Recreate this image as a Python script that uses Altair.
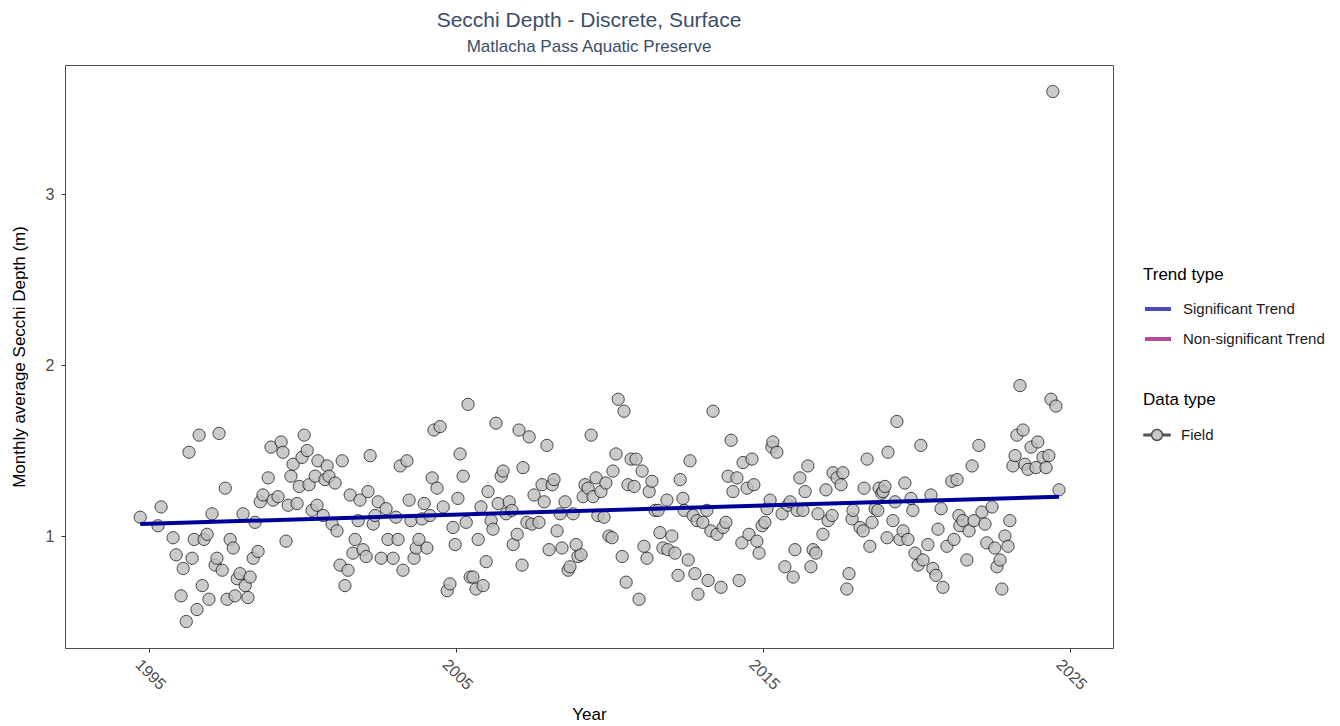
import altair as alt
import pandas as pd

years = [
    1994.71, 1995.29, 1995.39, 1995.78, 1995.88, 1996.04, 1996.11, 1996.21, 1996.30, 1996.40,
    1996.47, 1996.56, 1996.63, 1996.73, 1996.79, 1996.89, 1996.95, 1997.05, 1997.15, 1997.21,
    1997.28, 1997.38, 1997.48, 1997.54, 1997.64, 1997.74, 1997.80, 1997.87, 1997.96, 1998.06,
    1998.13, 1998.22, 1998.29, 1998.39, 1998.45, 1998.55, 1998.62, 1998.71, 1998.88, 1998.97,
    1999.04, 1999.20, 1999.30, 1999.36, 1999.46, 1999.53, 1999.62, 1999.69, 1999.82, 1999.89,
    1999.98, 2000.05, 2000.15, 2000.21, 2000.31, 2000.41, 2000.47, 2000.50, 2000.67, 2000.73,
    2000.80, 2000.86, 2000.96, 2001.06, 2001.12, 2001.22, 2001.29, 2001.38, 2001.48, 2001.55,
    2001.64, 2001.71, 2001.81, 2001.87, 2001.97, 2002.07, 2002.13, 2002.20, 2002.30, 2002.36,
    2002.46, 2002.56, 2002.72, 2002.78, 2002.95, 2003.04, 2003.11, 2003.18, 2003.27, 2003.40,
    2003.47, 2003.53, 2003.63, 2003.70, 2003.79, 2003.89, 2003.96, 2004.05, 2004.15, 2004.22,
    2004.28, 2004.38, 2004.48, 2004.58, 2004.71, 2004.80, 2004.90, 2004.97, 2005.06, 2005.13,
    2005.23, 2005.33, 2005.39, 2005.46, 2005.55, 2005.65, 2005.72, 2005.81, 2005.88, 2005.98,
    2006.04, 2006.14, 2006.20, 2006.30, 2006.37, 2006.47, 2006.53, 2006.63, 2006.73, 2006.82,
    2006.86, 2006.99, 2007.05, 2007.15, 2007.18, 2007.31, 2007.38, 2007.47, 2007.54, 2007.70,
    2007.80, 2007.87, 2007.96, 2008.03, 2008.13, 2008.19, 2008.29, 2008.39, 2008.45, 2008.55,
    2008.65, 2008.71, 2008.81, 2008.91, 2008.97, 2009.07, 2009.14, 2009.20, 2009.30, 2009.40,
    2009.46, 2009.56, 2009.62, 2009.72, 2009.82, 2009.88, 2009.98, 2010.08, 2010.11, 2010.21,
    2010.28, 2010.41, 2010.47, 2010.54, 2010.60, 2010.70, 2010.80, 2010.86, 2010.96, 2011.06,
    2011.12, 2011.22, 2011.29, 2011.38, 2011.48, 2011.58, 2011.64, 2011.74, 2011.87, 2011.90,
    2012.03, 2012.13, 2012.23, 2012.30, 2012.39, 2012.43, 2012.56, 2012.62, 2012.72, 2012.78,
    2012.85, 2012.88, 2013.04, 2013.17, 2013.21, 2013.30, 2013.37, 2013.50, 2013.63, 2013.70,
    2013.79, 2013.86, 2013.96, 2014.02, 2014.15, 2014.22, 2014.31, 2014.35, 2014.48, 2014.54,
    2014.64, 2014.70, 2014.80, 2014.87, 2014.97, 2015.06, 2015.13, 2015.23, 2015.29, 2015.32,
    2015.45, 2015.62, 2015.71, 2015.81, 2015.88, 2015.98, 2016.04, 2016.11, 2016.20, 2016.30,
    2016.37, 2016.46, 2016.56, 2016.63, 2016.72, 2016.79, 2016.95, 2017.05, 2017.12, 2017.25,
    2017.28, 2017.41, 2017.54, 2017.60, 2017.73, 2017.80, 2017.90, 2017.93, 2018.16, 2018.26,
    2018.29, 2018.39, 2018.48, 2018.55, 2018.65, 2018.74, 2018.78, 2018.87, 2018.91, 2018.97,
    2019.04, 2019.07, 2019.23, 2019.30, 2019.36, 2019.46, 2019.56, 2019.62, 2019.72, 2019.82,
    2019.88, 2019.95, 2020.05, 2020.14, 2020.21, 2020.37, 2020.47, 2020.53, 2020.63, 2020.70,
    2020.80, 2020.86, 2020.99, 2021.15, 2021.22, 2021.32, 2021.38, 2021.41, 2021.51, 2021.64,
    2021.71, 2021.81, 2021.87, 2022.03, 2022.13, 2022.23, 2022.29, 2022.46, 2022.55, 2022.62,
    2022.72, 2022.78, 2022.88, 2022.98, 2023.04, 2023.14, 2023.21, 2023.27, 2023.37, 2023.47,
    2023.53, 2023.63, 2023.73, 2023.89, 2023.95, 2024.12, 2024.22, 2024.31, 2024.38, 2024.44,
    2024.54, 2024.64,
]

secchi = [
    1.11, 1.06, 1.17, 0.99, 0.89, 0.65, 0.81, 0.50, 1.49, 0.87,
    0.98, 0.57, 1.59, 0.71, 0.98, 1.01, 0.63, 1.13, 0.83, 0.87,
    1.60, 0.80, 1.28, 0.63, 0.98, 0.93, 0.65, 0.75, 0.78, 1.13,
    0.71, 0.64, 0.76, 0.87, 1.08, 0.91, 1.20, 1.24, 1.34, 1.52,
    1.21, 1.23, 1.55, 1.49, 0.97, 1.18, 1.35, 1.42, 1.19, 1.29,
    1.46, 1.59, 1.50, 1.30, 1.15, 1.35, 1.18, 1.44, 1.12, 1.33,
    1.41, 1.35, 1.07, 1.31, 1.03, 0.83, 1.44, 0.71, 0.80, 1.24,
    0.90, 0.98, 1.09, 1.21, 0.92, 0.88, 1.26, 1.47, 1.07, 1.12,
    1.20, 0.87, 1.16, 0.98, 0.87, 1.11, 0.98, 1.41, 0.80, 1.44,
    1.21, 1.09, 0.87, 0.93, 0.98, 1.10, 1.19, 0.93, 1.12, 1.34,
    1.62, 1.28, 1.64, 1.17, 0.68, 0.72, 1.05, 0.95, 1.22, 1.48,
    1.35, 1.08, 1.77, 0.76, 0.76, 0.69, 0.98, 1.17, 0.71, 0.85,
    1.26, 1.09, 1.04, 1.66, 1.19, 1.35, 1.38, 1.13, 1.20, 1.15,
    0.95, 1.01, 1.62, 0.83, 1.40, 1.08, 1.58, 1.07, 1.24, 1.08,
    1.30, 1.20, 1.53, 0.92, 1.30, 1.33, 1.03, 1.13, 0.93, 1.20,
    0.80, 0.82, 1.13, 0.95, 0.88, 0.89, 1.23, 1.30, 1.28, 1.59,
    1.23, 1.34, 1.12, 1.26, 1.11, 1.31, 1.00, 0.99, 1.38, 1.48,
    1.80, 0.88, 1.73, 0.73, 1.30, 1.45, 1.29, 1.45, 0.63, 1.38,
    0.94, 0.87, 1.26, 1.32, 1.15, 1.15, 1.02, 0.93, 1.21, 0.92,
    1.00, 0.90, 0.77, 1.33, 1.22, 1.15, 0.86, 1.44, 1.12, 0.78,
    1.09, 0.66, 1.08, 1.15, 0.74, 1.03, 1.73, 1.01, 0.70, 1.05,
    1.08, 1.35, 1.56, 1.26, 1.34, 0.74, 0.96, 1.43, 1.28, 1.01,
    1.45, 1.30, 0.97, 0.90, 1.06, 1.08, 1.16, 1.21, 1.52, 1.55,
    1.49, 1.13, 0.82, 1.18, 1.20, 0.76, 0.92, 1.15, 1.34, 1.15,
    1.26, 1.41, 0.82, 0.92, 0.90, 1.13, 1.01, 1.27, 1.09, 1.12,
    1.37, 1.34, 1.30, 1.37, 0.69, 0.78, 1.10, 1.15, 1.05, 1.03,
    1.28, 1.45, 0.94, 1.08, 1.16, 1.15, 1.28, 1.25, 1.26, 1.29,
    0.99, 1.49, 1.09, 1.20, 1.67, 0.98, 1.03, 1.31, 0.98, 1.22,
    1.15, 0.90, 0.83, 1.53, 0.86, 0.95, 1.24, 0.81, 0.77, 1.04,
    1.16, 0.70, 0.94, 1.32, 0.98, 1.33, 1.12, 1.06, 1.09, 0.86,
    1.03, 1.41, 1.09, 1.53, 1.14, 1.07, 0.96, 1.17, 0.93, 0.82,
    0.86, 0.69, 1.00, 0.94, 1.09, 1.41, 1.47, 1.59, 1.88, 1.62,
    1.42, 1.39, 1.52, 1.40, 1.55, 1.46, 1.40, 1.47, 1.80, 3.60,
    1.76, 1.27,
]

trend_years = [1994.71, 2024.64]
trend_values = [1.07, 1.23]
trend_types = ["Significant Trend", "Significant Trend"]

trend_domain = ["Significant Trend", "Non-significant Trend"]
trend_colors = ["#000099", "#990066"]

x_ticks = [1995, 2005, 2015, 2025]
y_ticks = [1, 2, 3]

pts = pd.DataFrame({"Year": years, "Secchi": secchi, "dtype": ["Field"] * len(years)})
trend = pd.DataFrame({"Year": trend_years, "Secchi": trend_values, "ttype": trend_types})

FONT = "Liberation Sans"

x_enc = alt.X(
    "Year:Q",
    scale=alt.Scale(domain=[1992.26, 2026.4], nice=False, zero=False),
    axis=alt.Axis(values=x_ticks, format="d", title="Year", labelAngle=45,
                  labelAlign="left", labelBaseline="top", labelPadding=4,
                  labelOffset=-6),
)
y_enc = alt.Y(
    "Secchi:Q",
    scale=alt.Scale(domain=[0.345, 3.755], nice=False, zero=False),
    axis=alt.Axis(values=y_ticks, format="d", title="Monthly average Secchi Depth (m)",
                  labelPadding=7),
)

field_symbol = (
    "M-1,-0.06 L-0.42,-0.06 L-0.42,0.06 L-1,0.06 Z "
    "M0.42,-0.06 L1,-0.06 L1,0.06 L0.42,0.06 Z "
    "M-0.42,0 A0.42,0.42 0 1,0 0.42,0 A0.42,0.42 0 1,0 -0.42,0 Z"
)

points = alt.Chart(pts).mark_circle(
    size=150, stroke="#1a1a1a", strokeWidth=1, opacity=0.8
).encode(
    x=x_enc,
    y=y_enc,
    fill=alt.Fill(
        "dtype:N",
        scale=alt.Scale(domain=["Field"], range=["#bfbfbf"]),
        legend=alt.Legend(
            title="Data type", orient="none", legendX=1078, legendY=327,
            symbolType=field_symbol, symbolSize=676, symbolStrokeColor="#333333",
            symbolStrokeWidth=1.5, symbolOpacity=0.85, labelOffset=10,
        ),
    ),
)

line = alt.Chart(trend).mark_line(strokeWidth=4).encode(
    x=x_enc,
    y=y_enc,
    stroke=alt.Stroke(
        "ttype:N",
        scale=alt.Scale(domain=trend_domain, range=trend_colors),
        legend=alt.Legend(
            title="Trend type", orient="none", legendX=1078, legendY=202,
            symbolType="stroke", symbolSize=676, symbolStrokeWidth=4,
            symbolOpacity=0.7, labelOffset=10, rowPadding=7, titlePadding=10,
        ),
    ),
)

chart = (
    alt.layer(points, line)
    .resolve_legend(fill="independent", stroke="independent")
    .properties(
        width=1048,
        height=583,
        autosize=alt.AutoSizeParams(type="none"),
        padding={"left": 65, "top": 65, "right": 227, "bottom": 78},
        title=alt.TitleParams(
            text="Secchi Depth - Discrete, Surface",
            subtitle="Matlacha Pass Aquatic Preserve",
            anchor="middle", fontSize=21, subtitleFontSize=17,
            color="#3b4e69", subtitleColor="#3b4e69",
            font=FONT, subtitleFont=FONT, fontWeight="normal",
            offset=10, subtitlePadding=8,
        ),
        background="white",
    )
    .configure_view(stroke="#4d4d4d", strokeWidth=1)
    .configure_axis(
        grid=False, domain=False, tickColor="#333333", tickSize=4,
        labelColor="#4d4d4d", labelFontSize=16, labelFont=FONT,
        titleFont=FONT, titleFontSize=17, titleColor="#000000",
        titleFontWeight="normal",
    )
    .configure_axisY(titlePadding=17)
    .configure_axisX(titlePadding=14)
    .configure_legend(
        titleFont=FONT, labelFont=FONT, titleFontSize=17, labelFontSize=15,
        titleFontWeight="normal", titleColor="#000000", labelColor="#1a1a1a",
        padding=0, titlePadding=12,
    )
)

chart.save("out.html", embed_options={"renderer": "svg", "actions": False})
